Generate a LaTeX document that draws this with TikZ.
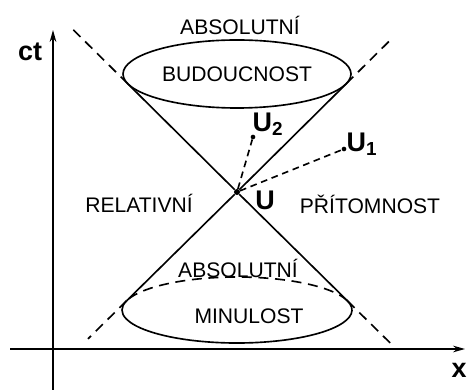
\documentclass[tikz,border=0pt]{standalone}
\usepackage{fontspec}
\setmainfont{Liberation Sans}
\usetikzlibrary{arrows.meta,shapes.geometric,calc}
\tikzset{
  lbl/.style={font=\fontsize{18}{20}\selectfont, inner sep=0pt},
  ev/.style={font=\bfseries\fontsize{23}{25}\selectfont, inner sep=0pt},
  ax/.style={-{Stealth[length=3.6mm, width=2mm]}, line width=1.4pt},
  cone/.style={line width=1.4pt},
  dsh/.style={line width=1.4pt, dash pattern=on 3mm off 2mm},
  wl/.style={line width=1.4pt, dash pattern=on 2mm off 1.4mm},
  dot/.style={circle, fill, inner sep=0pt, minimum size=1.4mm},
  futcap/.style={draw, ellipse, line width=1.4pt, inner sep=0pt, minimum width=68.4mm, minimum height=20.4mm, font=\fontsize{18}{20}\selectfont}
}
\begin{document}
\begin{tikzpicture}[x=0.3mm, y=0.3mm]
  \useasboundingbox (0,0) rectangle (467,390);
  % axes
  \coordinate (xs) at (10,41); \coordinate (xe) at (465,41);
  \coordinate (ts) at (53,0); \coordinate (te) at (53,360);
  \draw[ax] (xs) -- (xe);
  \draw[ax] (ts) -- (te);
  \node[ev] (ct) at (30,338) {ct};
  \node[ev] (xl) at (459,20) {x};
  % event and cone
  \node[dot, minimum size=1.8mm] (U) at (237,198) {};
  \node[futcap] (fut) at (237,316) {BUDOUCNOST};
  \coordinate (ful) at (127.8,306.2); \coordinate (fur) at (346.2,306.2);
  \coordinate (pal) at (126.6,89.2); \coordinate (par) at (347.4,89.2);
  \coordinate (e1) at ($(U)!1.5!(ful)$); \coordinate (e2) at ($(U)!1.41!(fur)$);
  \coordinate (e3) at ($(U)!1.35!(pal)$); \coordinate (e4) at ($(U)!1.39!(par)$);
  \draw[cone] (U) -- (ful); \draw[cone] (U) -- (fur);
  \draw[cone] (U) -- (pal); \draw[cone] (U) -- (par);
  \draw[dsh] (ful) -- (e1); \draw[dsh] (fur) -- (e2);
  \draw[dsh] (pal) -- (e3); \draw[dsh] (par) -- (e4);
  \draw[cone] (par) arc[start angle=16.2, end angle=-196.2, x radius=115, y radius=33];
  \draw[dsh] (par) arc[start angle=16.2, end angle=163.8, x radius=115, y radius=33];
  % world points
  \node[dot] (u2) at (253,253) {};
  \node[dot] (u1) at (344,241) {};
  \draw[wl] (U) -- (u2); \draw[wl] (U) -- (u1);
  \node[ev] (u2l) at (268,266) {U\textsubscript{2}};
  \node[ev] (u1l) at (362,246) {U\textsubscript{1}};
  \node[ev] (Ul) at (265,190) {U};
  % regions
  \node[lbl] (abs1) at (240,365) {ABSOLUTNÍ};
  \node[lbl] (rel) at (139,187) {RELATIVNÍ};
  \node[lbl] (pri) at (370,186) {PŘÍTOMNOST};
  \node[lbl] (abs2) at (238,122) {ABSOLUTNÍ};
  \node[lbl] (pas) at (249,74) {MINULOST};
\end{tikzpicture}
\end{document}
